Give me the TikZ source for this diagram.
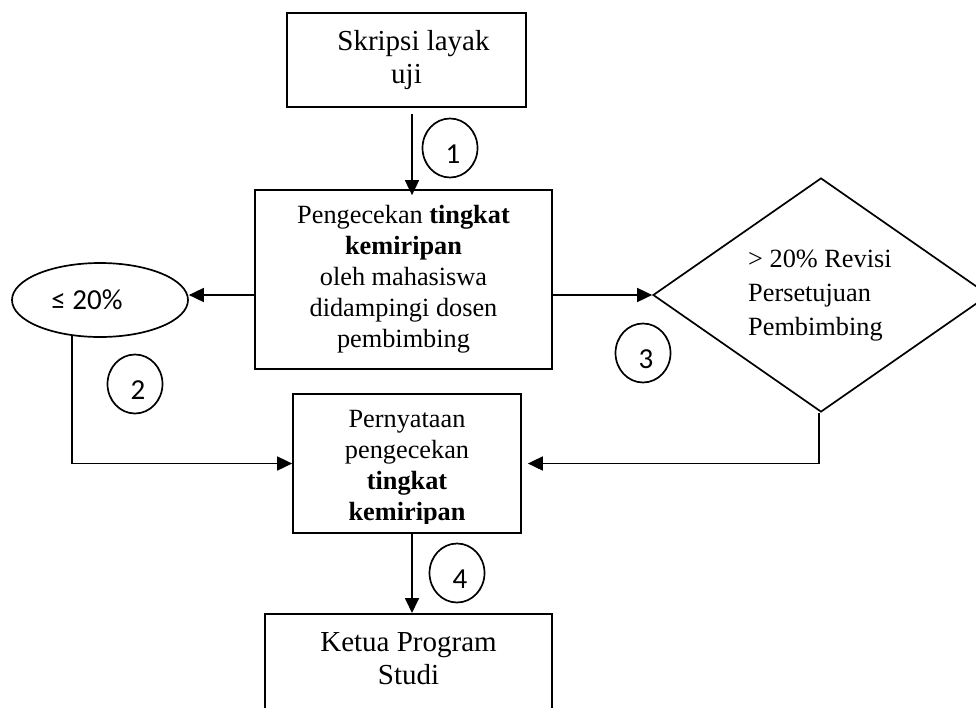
\documentclass[tikz,border=0pt]{standalone}
\usepackage{fontspec}
\setmainfont{Liberation Serif}
\newfontfamily\calib{Carlito}
\usetikzlibrary{shapes.geometric,arrows.meta,calc}
\begin{document}
\begin{tikzpicture}[x=1pt,y=-1pt,
  lw/.style={line width=1.7pt},
  box/.style={draw, lw, rectangle, inner sep=0pt, align=center},
  big/.style={font=\fontsize{29}{33}\selectfont},
  small/.style={font=\fontsize{26.3}{31}\selectfont},
  num/.style={draw, lw, ellipse, inner sep=0pt, minimum width=55pt, minimum height=59pt,
    font=\calib\fontsize{29}{30}\selectfont, text height=30pt, text depth=0pt},
  arr/.style={lw, -{Triangle[length=15pt,width=14pt]}}]
\useasboundingbox (0,0) rectangle (976,707);
\clip (0,0) rectangle (976,707);
% boxes
\node[box, big, minimum width=239pt, minimum height=94pt] (top) at (406.5,60) {\hspace*{14pt}Skripsi layak\\uji};
\node[box, small, minimum width=297pt, minimum height=179pt] (main) at (403.5,279.5)
  {Pengecekan \textbf{tingkat}\\\textbf{kemiripan}\\oleh mahasiswa\\didampingi dosen\\pembimbing};
\node[draw, lw, ellipse, inner sep=0pt, minimum width=176pt, minimum height=74pt,
  font=\calib\fontsize{29}{30}\selectfont] (ell) at (100,300) {≤ 20\%\hspace*{26pt}};
\node[draw, lw, diamond, inner sep=0pt, minimum width=336pt, minimum height=234pt] (dia) at (821,295) {};
\node[align=left, inner sep=0pt, anchor=west, font=\fontsize{26.3}{34}\selectfont] (diatext) at (748,296)
  {> 20\% Revisi\\Persetujuan\\Pembimbing};
\node[box, minimum width=228pt, minimum height=139pt] (pern) at (407,463.5) {};
\begin{scope}
\clip (293,394) rectangle (521,523);
\node[small, align=center, inner sep=0pt] (perntext) at (407,468.6)
  {Pernyataan\\pengecekan\\\textbf{tingkat}\\\textbf{kemiripan}};
\end{scope}
\node[box, minimum width=287pt, minimum height=140pt, anchor=north] (ketua) at (408.5,613) {};
\node[big, align=center, inner sep=0pt] (ketuatext) at (408.5,659) {Ketua Program\\Studi};
% numbered circles
\node[num] (n1) at (450,148) {\hspace*{6pt}1};
\node[num] (n2) at (135,384) {\hspace*{6pt}2};
\node[num] (n3) at (643,353) {\hspace*{6pt}3};
\node[num] (n4) at (457,573) {\hspace*{6pt}4};
% connectors
\coordinate (e2) at ($(ell.center)+(-28,35)$);
\draw[arr] ([xshift=5.5pt,yshift=-6pt]top.south) -- ([xshift=5.5pt,yshift=-6pt]top.south |- main.north);
\draw[arr] (main.west |- dia.west) -- (ell.east |- dia.west);
\draw[arr] (main.east |- dia.west) -- (dia.west);
\draw[arr] (e2) |- (pern.west);
\draw[arr] ([xshift=-2pt]dia.south) |- ([xshift=6pt]pern.east);
\draw[arr] ([xshift=5pt]pern.south) -- ([xshift=5pt]pern.south |- ketua.north);
\end{tikzpicture}
\end{document}
